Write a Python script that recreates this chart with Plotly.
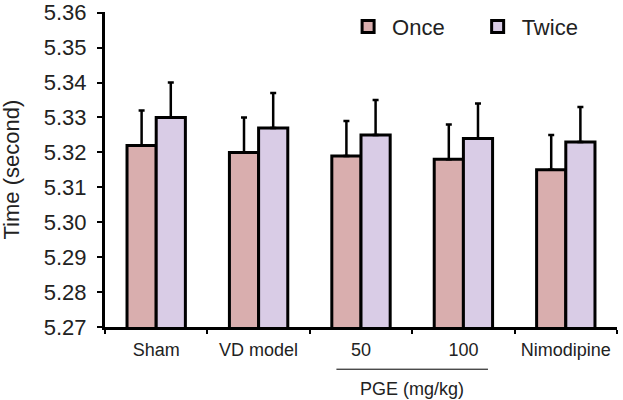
import plotly.graph_objects as go

categories = ["Sham", "VD model", "50", "100", "Nimodipine"]
once = [5.322, 5.320, 5.319, 5.318, 5.315]
twice = [5.330, 5.327, 5.325, 5.324, 5.323]
once_err = [0.010, 0.010, 0.010, 0.010, 0.010]
twice_err = [0.010, 0.010, 0.010, 0.010, 0.010]
yticks = [5.27, 5.28, 5.29, 5.30, 5.31, 5.32, 5.33, 5.34, 5.35, 5.36]

FONT = "Liberation Sans, Arial, sans-serif"

fig = go.Figure()
fig.add_trace(go.Bar(
    x=categories, y=once, name="Once", legend="legend",
    marker=dict(color="#D9AEAE", line=dict(color="black", width=3)),
    error_y=dict(type="data", array=once_err, arrayminus=[0]*5, symmetric=False,
                 color="black", thickness=2.5, width=3),
))
fig.add_trace(go.Bar(
    x=categories, y=twice, name="Twice", legend="legend2",
    marker=dict(color="#D9CCE6", line=dict(color="black", width=3)),
    error_y=dict(type="data", array=twice_err, arrayminus=[0]*5, symmetric=False,
                 color="black", thickness=2.5, width=3),
))

leg_common = dict(orientation="h", xanchor="left", y=0.953, yanchor="middle",
                  itemwidth=38,
                  font=dict(size=22, family=FONT), bgcolor="rgba(0,0,0,0)")
fig.update_layout(
    width=623, height=400,
    margin=dict(l=105, r=6, t=6, b=73),
    paper_bgcolor="white", plot_bgcolor="white",
    barmode="group", bargap=0.43, bargroupgap=0,
    font=dict(family=FONT, color="#222222"),
    legend=dict(x=0.467, **leg_common),
    legend2=dict(x=0.72, **leg_common),
    showlegend=True,
)
fig.update_yaxes(
    range=[5.27, 5.3602], tickvals=yticks, tickformat=".2f",
    ticks="outside", ticklen=5, tickwidth=2, tickcolor="black",
    showline=True, linecolor="black", linewidth=3, showgrid=False, zeroline=False,
    tickfont=dict(size=22, family=FONT), ticklabelstandoff=6, automargin=False,
)
fig.update_xaxes(
    type="category", tickson="boundaries",
    ticks="outside", ticklen=4, tickwidth=2, tickcolor="black",
    showline=True, linecolor="black", linewidth=3, showgrid=False,
    tickfont=dict(size=18, family=FONT), ticklabelstandoff=4, automargin=False,
)
fig.add_annotation(text="Time (second)", xref="paper", yref="paper", x=0, y=0.5,
                   xshift=-94, textangle=-90, showarrow=False,
                   font=dict(size=22, family=FONT), xanchor="center", yanchor="middle")
fig.add_shape(type="line", xref="x", yref="paper", x0=1.76, x1=3.24,
              y0=-0.134, y1=-0.134, line=dict(color="black", width=1))
fig.add_annotation(text="PGE (mg/kg)", xref="x", yref="paper", x=2.5, y=-0.198,
                   showarrow=False, font=dict(size=18, family=FONT), yanchor="middle")

fig.write_html("out.html", config={"displayModeBar": False},
               post_script="document.body.style.margin='0';document.body.style.overflow='hidden';")
